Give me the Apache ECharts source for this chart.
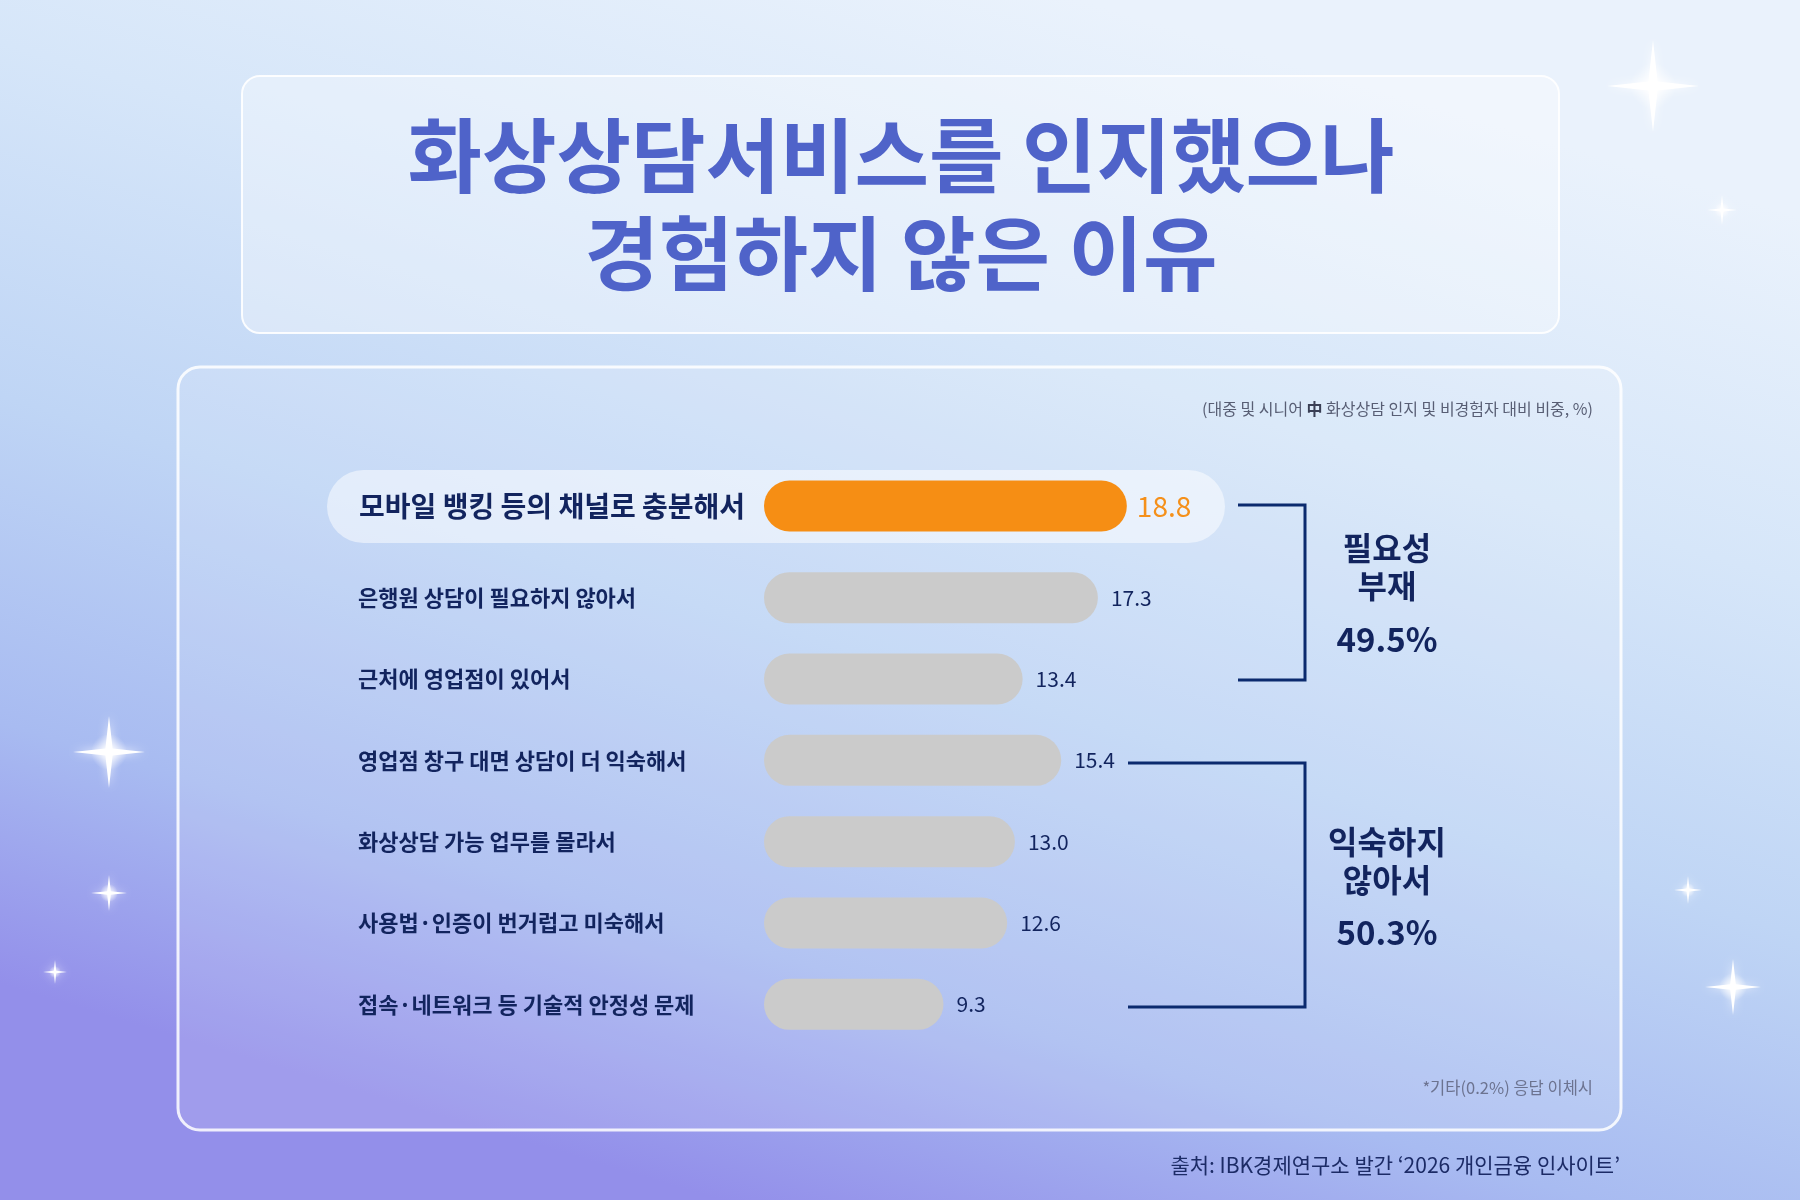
<!DOCTYPE html>
<html>
<head>
<meta charset="utf-8">
<script src="https://cdn.jsdelivr.net/npm/echarts@6/dist/echarts.min.js"></script>
<style>
  html, body { margin: 0; padding: 0; background: #cfe1f7; }
  #chart { width: 1800px; height: 1200px; }
</style>
</head>
<body>
<div id="chart"></div>
<script>
// 데이터
const topCategory = ['모바일 뱅킹 등의 채널로 충분해서'];
const topValue = [18.8];
const categories = [
  '은행원 상담이 필요하지 않아서',
  '근처에 영업점이 있어서',
  '영업점 창구 대면 상담이 더 익숙해서',
  '화상상담 가능 업무를 몰라서',
  '사용법·인증이 번거럽고 미숙해서',
  '접속·네트워크 등 기술적 안정성 문제'
];
const values = [17.3, 13.4, 15.4, 13.0, 12.6, 9.3];
const groupNames = ['필요성\n부재', '익숙하지\n않아서'];
const groupTotals = ['49.5%', '50.3%'];

const titleText = ['화상상담서비스를 인지했으나', '경험하지 않은 이유'];
const unitText = '(대중 및 시니어 {b|中} 화상상담 인지 및 비경험자 대비 비중, %)';
const noteText = '*기타(0.2%) 응답 이체시';
const sourceText = '출처: IBK경제연구소 발간 \u20182026 개인금융 인사이트\u2019';

const FONT = '"Noto Sans CJK KR", "Noto Sans", sans-serif';
const NAVY = '#12245e';
const LINE = '#0b2a6e';

const chart = echarts.init(document.getElementById('chart'), null, { renderer: 'canvas' });

// 반짝이 장식
function sparkle(cx, cy, r) {
  const w = r * 0.1;
  return [
    {
      type: 'circle', z: -5, silent: true,
      shape: { cx: cx, cy: cy, r: r * 0.5 },
      style: {
        fill: new echarts.graphic.RadialGradient(0.5, 0.5, 0.5, [
          { offset: 0, color: 'rgba(255,255,255,0.9)' },
          { offset: 1, color: 'rgba(255,255,255,0)' }
        ])
      }
    },
    {
      type: 'polygon', z: -4, silent: true,
      shape: { points: [[cx, cy - r], [cx + w, cy - w], [cx + r, cy], [cx + w, cy + w],
                        [cx, cy + r], [cx - w, cy + w], [cx - r, cy], [cx - w, cy - w]] },
      style: { fill: '#ffffff', shadowBlur: 8, shadowColor: 'rgba(255,255,255,0.9)' }
    }
  ];
}

function bracket(x1, x2, y1, y2) {
  return {
    type: 'polyline', silent: true,
    shape: { points: [[x1, y1], [x2, y1], [x2, y2], [x1, y2]] },
    style: { stroke: LINE, lineWidth: 3, fill: null }
  };
}

const graphics = [
  {
    type: 'rect', z: -10, silent: true,
    shape: { x: 0, y: 0, width: 1800, height: 1200 },
    style: {
      fill: new echarts.graphic.LinearGradient(0.6, 0, 0.4, 1, [
        { offset: 0, color: '#eaf2fc' },
        { offset: 0.28, color: '#d6e6f9' },
        { offset: 0.55, color: '#bfd5f5' },
        { offset: 0.8, color: '#a8bbf1' },
        { offset: 1, color: '#938fea' }
      ])
    }
  },
  // 제목 박스
  {
    type: 'rect', z: -2, silent: true,
    shape: { x: 242, y: 76, width: 1317, height: 257, r: 18 },
    style: { fill: 'rgba(255,255,255,0.33)', stroke: 'rgba(255,255,255,0.9)', lineWidth: 2 }
  },
  {
    type: 'text', silent: true, x: 901, y: 155,
    style: { text: titleText[0], font: 'bold 81px ' + FONT, fill: '#4f63c9', align: 'center', verticalAlign: 'middle' }
  },
  {
    type: 'text', silent: true, x: 901, y: 253,
    style: { text: titleText[1], font: 'bold 81px ' + FONT, fill: '#4f63c9', align: 'center', verticalAlign: 'middle' }
  },
  // 차트 패널
  {
    type: 'rect', z: -2, silent: true,
    shape: { x: 178, y: 367, width: 1443, height: 763, r: 22 },
    style: { fill: 'rgba(255,255,255,0.12)', stroke: 'rgba(255,255,255,0.85)', lineWidth: 3 }
  },
  {
    type: 'text', silent: true, x: 1593, y: 409,
    style: {
      text: unitText, font: '16px ' + FONT, fill: '#585e74', align: 'right', verticalAlign: 'middle',
      rich: { b: { font: 'bold 16px ' + FONT, fill: '#3a3f55' } }
    }
  },
  // 첫 행 강조 배경
  {
    type: 'rect', z: -1, silent: true,
    shape: { x: 327, y: 470, width: 898, height: 73, r: 36.5 },
    style: { fill: 'rgba(255,255,255,0.5)' }
  },
  bracket(1238, 1305, 505, 680),
  bracket(1128, 1305, 763, 1007),
  {
    type: 'text', silent: true, x: 1387, y: 567,
    style: { text: groupNames[0], font: 'bold 32px ' + FONT, lineHeight: 38, fill: NAVY, align: 'center', verticalAlign: 'middle' }
  },
  {
    type: 'text', silent: true, x: 1387, y: 639,
    style: { text: groupTotals[0], font: 'bold 33px ' + FONT, fill: NAVY, align: 'center', verticalAlign: 'middle' }
  },
  {
    type: 'text', silent: true, x: 1387, y: 861,
    style: { text: groupNames[1], font: 'bold 32px ' + FONT, lineHeight: 38, fill: NAVY, align: 'center', verticalAlign: 'middle' }
  },
  {
    type: 'text', silent: true, x: 1387, y: 932,
    style: { text: groupTotals[1], font: 'bold 33px ' + FONT, fill: NAVY, align: 'center', verticalAlign: 'middle' }
  },
  {
    type: 'text', silent: true, x: 1593, y: 1088,
    style: { text: noteText, font: '16.5px ' + FONT, fill: '#6c7390', align: 'right', verticalAlign: 'middle' }
  },
  {
    type: 'text', silent: true, x: 1620, y: 1165,
    style: { text: sourceText, font: '21px ' + FONT, fill: '#1c2b66', align: 'right', verticalAlign: 'middle' }
  }
].concat(
  sparkle(1653, 86, 46), sparkle(1722, 210, 15), sparkle(109, 752, 36),
  sparkle(109, 893, 18), sparkle(55, 972, 12), sparkle(1688, 890, 14), sparkle(1733, 987, 28)
);

chart.setOption({
  animation: false,
  grid: [
    { left: 764, width: 386, top: 465, height: 82 },
    { left: 764, width: 386, top: 557, height: 488 }
  ],
  xAxis: [
    { gridIndex: 0, type: 'value', min: 0, max: 20, show: false },
    { gridIndex: 1, type: 'value', min: 0, max: 20, show: false }
  ],
  yAxis: [
    {
      gridIndex: 0, type: 'category', data: topCategory, inverse: true,
      axisLine: { show: false }, axisTick: { show: false }, splitLine: { show: false },
      axisLabel: { align: 'left', margin: 405, color: NAVY, fontSize: 28, fontWeight: 'bold', fontFamily: FONT }
    },
    {
      gridIndex: 1, type: 'category', data: categories, inverse: true,
      axisLine: { show: false }, axisTick: { show: false }, splitLine: { show: false },
      axisLabel: { align: 'left', margin: 406, color: NAVY, fontSize: 22, fontWeight: 'bold', fontFamily: FONT }
    }
  ],
  series: [
    {
      type: 'bar', xAxisIndex: 0, yAxisIndex: 0, data: topValue,
      barWidth: 51,
      itemStyle: { color: '#f68e14', borderRadius: 26 },
      label: {
        show: true, position: 'right', distance: 10,
        formatter: p => p.value.toFixed(1),
        color: '#f5901a', fontSize: 28, fontFamily: FONT
      }
    },
    {
      type: 'bar', xAxisIndex: 1, yAxisIndex: 1, data: values,
      barWidth: 51,
      itemStyle: { color: '#cbcbcb', borderRadius: 26 },
      label: {
        show: true, position: 'right', distance: 13,
        formatter: p => p.value.toFixed(1),
        color: NAVY, fontSize: 21, fontFamily: FONT
      }
    }
  ],
  graphic: graphics
});
</script>
</body>
</html>
